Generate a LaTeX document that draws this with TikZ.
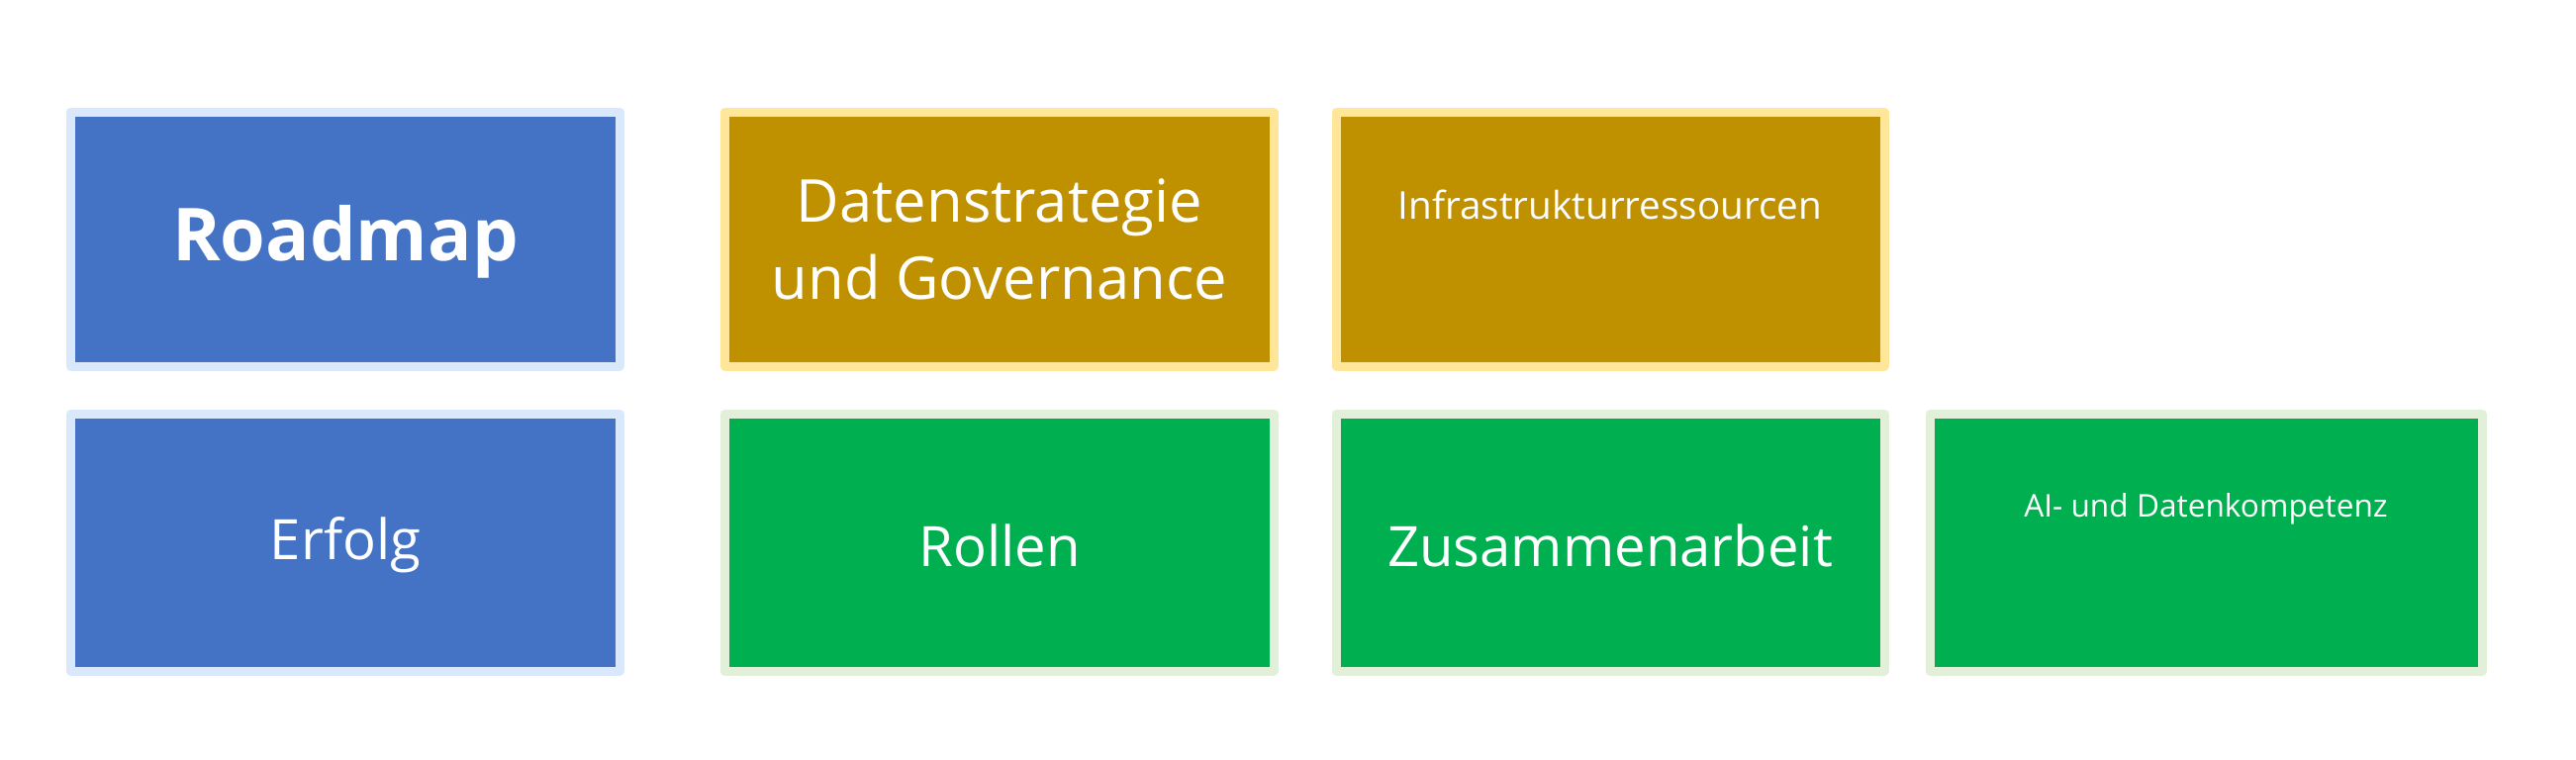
\documentclass[tikz,border=0pt]{standalone}
\usepackage{fontspec}
\setmainfont{Open Sans}
\tikzset{
  card/.style={line width=0.9mm,line join=round},
  bluecard/.style={card,fill={rgb,255:red,68;green,114;blue,196},draw={rgb,255:red,218;green,232;blue,252}},
  goldcard/.style={card,fill={rgb,255:red,191;green,144;blue,0},draw={rgb,255:red,255;green,230;blue,153}},
  greencard/.style={card,fill={rgb,255:red,0;green,175;blue,80},draw={rgb,255:red,226;green,240;blue,217}},
  label/.style={text=white,align=center}
}
\begin{document}
\begin{tikzpicture}
\useasboundingbox (0,0) rectangle (26.03,-7.67);
\draw[bluecard] (0.71,-1.13) rectangle (6.26,-3.70);
\draw[goldcard] (7.32,-1.13) rectangle (12.87,-3.70);
\draw[goldcard] (13.50,-1.13) rectangle (19.04,-3.70);
\draw[bluecard] (0.71,-4.18) rectangle (6.26,-6.78);
\draw[greencard] (7.32,-4.18) rectangle (12.87,-6.78);
\draw[greencard] (13.50,-4.18) rectangle (19.04,-6.78);
\draw[greencard] (19.50,-4.18) rectangle (25.08,-6.78);

\node[label,font=\fontsize{21}{25}\selectfont\bfseries] (roadmap) at (3.49,-2.44) {Roadmap};
\node[label,font=\fontsize{17}{22}\selectfont] (strategie) at (10.10,-2.42) {Datenstrategie\\und Governance};
\node[label,font=\fontsize{11}{14}\selectfont] (infra) at (16.27,-2.07) {Infrastrukturressourcen};
\node[label,font=\fontsize{16}{20}\selectfont] (erfolg) at (3.49,-5.51) {Erfolg};
\node[label,font=\fontsize{16}{20}\selectfont] (rollen) at (10.10,-5.51) {Rollen};
\node[label,font=\fontsize{16}{20}\selectfont] (zusammen) at (16.27,-5.51) {Zusammenarbeit};
\node[label,font=\fontsize{9}{12}\selectfont] (kompetenz) at (22.29,-5.14) {AI- und Datenkompetenz};
\end{tikzpicture}
\end{document}
